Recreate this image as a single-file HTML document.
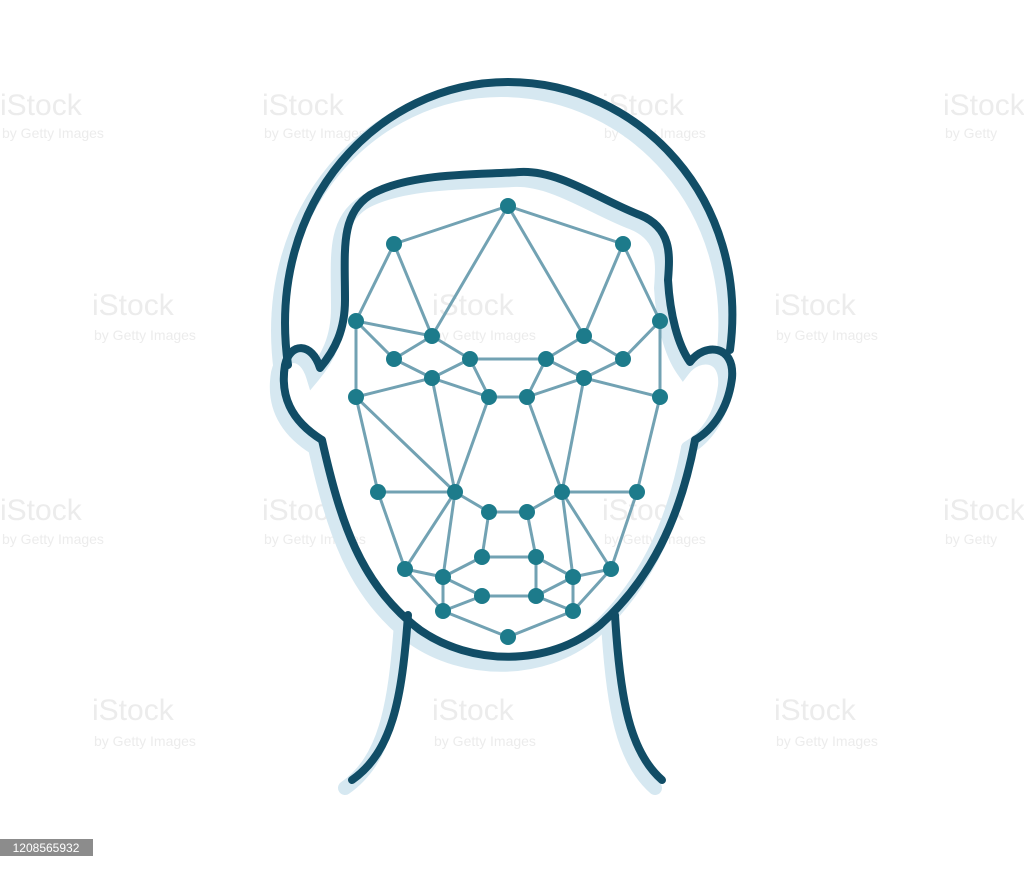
<!DOCTYPE html>
<html><head><meta charset="utf-8"><style>
html,body{margin:0;padding:0;background:#fff;width:1024px;height:869px;overflow:hidden;font-family:"Liberation Sans",sans-serif}
svg{display:block}
</style></head><body>
<svg width="1024" height="869" viewBox="0 0 1024 869">
<g fill="#ececec" font-family="Liberation Sans, sans-serif">
<g font-size="30"><text x="0" y="115">iStock</text><text x="262" y="115">iStock</text><text x="602" y="115">iStock</text><text x="943" y="115">iStock</text>
<text x="92" y="315">iStock</text><text x="432" y="315">iStock</text><text x="774" y="315">iStock</text>
<text x="0" y="520">iStock</text><text x="262" y="520">iStock</text><text x="602" y="520">iStock</text><text x="943" y="520">iStock</text>
<text x="92" y="720">iStock</text><text x="432" y="720">iStock</text><text x="774" y="720">iStock</text></g>
<g font-size="14"><text x="2" y="138">by Getty Images</text><text x="264" y="138">by Getty Images</text><text x="604" y="138">by Getty Images</text><text x="945" y="138">by Getty</text>
<text x="94" y="340">by Getty Images</text><text x="434" y="340">by Getty Images</text><text x="776" y="340">by Getty Images</text>
<text x="2" y="544">by Getty Images</text><text x="264" y="544">by Getty Images</text><text x="604" y="544">by Getty Images</text><text x="945" y="544">by Getty</text>
<text x="94" y="746">by Getty Images</text><text x="434" y="746">by Getty Images</text><text x="776" y="746">by Getty Images</text></g>
</g>
<g id="shadow" transform="translate(-7,8)" fill="none" stroke="#d6e8f1" stroke-width="14" stroke-linecap="round"></g>
<g id="outline" fill="none" stroke="#114d66" stroke-width="8" stroke-linecap="round" stroke-linejoin="round"></g>
<g id="mesh"></g>
<g>
<rect x="0" y="839" width="93" height="17" fill="#8c8c8c"/>
<text x="46" y="852" fill="#fff" font-size="12" text-anchor="middle">1208565932</text></g>
</svg>
<script>
const paths=[
"M288,365 C265,200 380,82 508,82 C640,82 750,200 730,350",
"M322,440 C290,420 280,395 285,365 C290,342 312,342 320,368 C335,350 345,330 345,300 C345,250 340,215 370,195 C410,172 480,175 520,172 C560,170 600,200 640,215 C672,228 670,255 668,280 C670,315 678,345 690,362 C705,342 735,345 732,378 C728,410 712,430 695,440",
"M322,440 C340,520 360,585 420,630 C470,665 548,668 600,625 C650,580 680,520 695,440",
"M408,615 C402,700 392,752 352,780",
"M615,615 C620,700 630,752 662,780"];
const NS="http://www.w3.org/2000/svg";
const sh=document.getElementById('shadow'),ol=document.getElementById('outline');
paths.forEach((d,i)=>{[sh,ol].forEach(g=>{const p=document.createElementNS(NS,'path');p.setAttribute('d',d);


g.appendChild(p);});});
const nodes={A:[508,206],B:[394,244],C:[623,244],D:[356,321],E:[432,336],F:[584,336],G:[660,321],H:[394,359],I:[470,359],J:[546,359],K:[623,359],L:[432,378],M:[584,378],N:[356,397],O:[489,397],P:[527,397],Q:[660,397],R:[378,492],S:[455,492],T:[562,492],U:[637,492],V:[489,512],W:[527,512],X:[482,557],Y:[536,557],Z:[405,569],a:[443,577],b:[573,577],c:[611,569],d:[482,596],e:[536,596],f:[443,611],g:[573,611],h:[508,637]};
const edges=["AB","AC","AE","AF","BD","BE","CG","CF","DE","DH","DN","EH","EI","FJ","FK","GK","GQ","HL","IL","IJ","IO","JM","JP","KM","LN","LO","MP","MQ","OP","NS","NR","LS","OS","MT","PT","QU","RS","SV","TW","TU","VW","Sa","SZ","RZ","VX","WY","XY","Tb","Tc","Uc","Za","aX","Yb","bc","ad","af","de","Ye","eb","bg","fd","ge","fh","gh","Zf","cg"];
const m=document.getElementById('mesh');
edges.forEach(e=>{const[p,q]=[nodes[e[0]],nodes[e[1]]];const l=document.createElementNS(NS,'line');
l.setAttribute('x1',p[0]);l.setAttribute('y1',p[1]);l.setAttribute('x2',q[0]);l.setAttribute('y2',q[1]);
l.setAttribute('stroke','#72a2b3');l.setAttribute('stroke-width','3');


m.appendChild(l);});
Object.values(nodes).forEach(p=>{const c=document.createElementNS(NS,'circle');
c.setAttribute('cx',p[0]);c.setAttribute('cy',p[1]);c.setAttribute('r','8');c.setAttribute('fill','#1d7b8b');


m.appendChild(c);});
</script>
</body></html>
